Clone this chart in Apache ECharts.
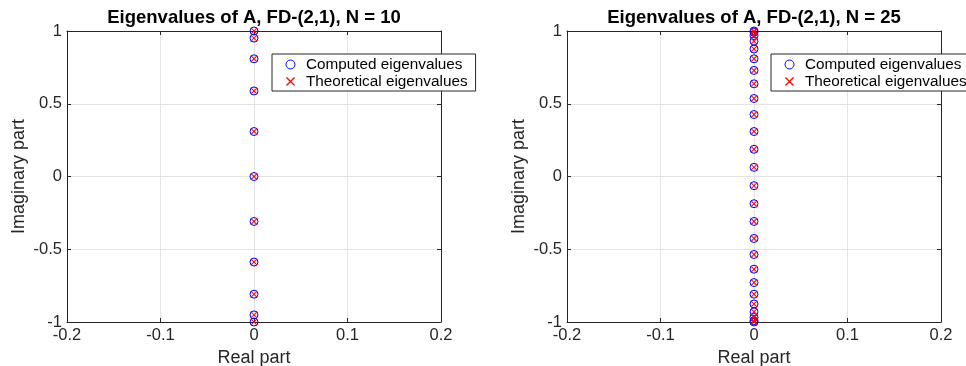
<!DOCTYPE html>
<html>
<head>
<meta charset="utf-8">
<script src="https://cdn.jsdelivr.net/npm/echarts@6/dist/echarts.min.js"></script>
<style>html,body{margin:0;padding:0;background:#fff}#c{width:966px;height:366px}</style>
</head>
<body>
<div id="c"></div>
<script>
// ---- data ----
var titles = ['Eigenvalues of A, FD-(2,1), N = 10', 'Eigenvalues of A, FD-(2,1), N = 25'];
var seriesNames = ['Computed eigenvalues', 'Theoretical eigenvalues'];
// N = 10 : (real, imag)
var real10 = [0, 0, 0, 0, 0, 0, 0, 0, 0, 0, 0];
var computedImag10 = [1, 0.951, 0.809, 0.588, 0.309, 0, -0.309, -0.588, -0.809, -0.951, -1];
var theoreticalImag10 = [1, 0.951, 0.809, 0.588, 0.309, 0, -0.309, -0.588, -0.809, -0.951, -1];
// N = 25
var real25 = [0, 0, 0, 0, 0, 0, 0, 0, 0, 0, 0, 0, 0, 0, 0, 0, 0, 0, 0, 0, 0, 0, 0, 0, 0, 0];
var computedImag25 = [1, 0.992, 0.969, 0.930, 0.876, 0.809, 0.729, 0.637, 0.536, 0.426, 0.309, 0.187, 0.063,
  -0.063, -0.187, -0.309, -0.426, -0.536, -0.637, -0.729, -0.809, -0.876, -0.930, -0.969, -0.992, -1];
var theoreticalImag25 = [1, 0.992, 0.969, 0.930, 0.876, 0.809, 0.729, 0.637, 0.536, 0.426, 0.309, 0.187, 0.063,
  -0.063, -0.187, -0.309, -0.426, -0.536, -0.637, -0.729, -0.809, -0.876, -0.930, -0.969, -0.992, -1];
var xTicks = [-0.2, -0.1, 0, 0.1, 0.2];
var yTicks = [-1, -0.5, 0, 0.5, 1];

function pairs(xs, ys) { return ys.map(function (y, i) { return [xs[i], y]; }); }

// ---- chart ----
var FONT = 'Liberation Sans, Arial, Helvetica, sans-serif';
var AX = '#262626';
var GRID = '#e3e3e3';
var BLUE = '#0000ff', RED = '#ff0000';
// filled "x" outline so the colour comes from fill only
var CROSS = 'path://M0 1L1 0L5 4L9 0L10 1L6 5L10 9L9 10L5 6L1 10L0 9L4 5Z';
var gridLefts = [67, 567];
var plotW = 374, plotTop = 31, plotH = 291;
var fmt = function (v) { return String(Number(v.toFixed(2))); };

var option = { animation: false, backgroundColor: '#fff', title: [], grid: [], xAxis: [], yAxis: [], series: [], legend: [] };

[0, 1].forEach(function (k) {
  var gl = gridLefts[k];
  var suffix = '#' + k;
  option.title.push({
    text: titles[k], left: gl + plotW / 2, top: 8, textAlign: 'center', padding: 0,
    textStyle: { fontFamily: FONT, fontSize: 18.5, fontWeight: 'bold', color: '#000' }
  });
  option.grid.push({ left: gl, top: plotTop, width: plotW, height: plotH, show: false, containLabel: false, outerBoundsMode: 'none' });
  var xBase = {
    gridIndex: k, type: 'value', min: xTicks[0], max: xTicks[xTicks.length - 1], interval: 0.1,
    axisLine: { show: true, onZero: false, lineStyle: { color: AX, width: 1 } },
    axisTick: { show: true, inside: true, length: 4, lineStyle: { color: AX } }
  };
  option.xAxis.push(Object.assign({}, xBase, {
    position: 'bottom', name: 'Real part', nameLocation: 'middle', nameGap: 24,
    nameTextStyle: { fontFamily: FONT, fontSize: 18, color: AX },
    axisLabel: { fontFamily: FONT, fontSize: 16.5, color: AX, margin: 5, formatter: fmt, showMinLabel: true, showMaxLabel: true },
    splitLine: { show: true, lineStyle: { color: GRID, width: 1 } }
  }));
  option.xAxis.push(Object.assign({}, xBase, {
    position: 'top', axisLabel: { show: false }, splitLine: { show: false }
  }));
  var yBase = {
    gridIndex: k, type: 'value', min: yTicks[0], max: yTicks[yTicks.length - 1], interval: 0.5,
    axisLine: { show: true, onZero: false, lineStyle: { color: AX, width: 1 } },
    axisTick: { show: true, inside: true, length: 4, lineStyle: { color: AX } }
  };
  option.yAxis.push(Object.assign({}, yBase, {
    position: 'left', name: 'Imaginary part', nameLocation: 'middle', nameGap: 39,
    nameTextStyle: { fontFamily: FONT, fontSize: 18, color: AX },
    axisLabel: { fontFamily: FONT, fontSize: 16.5, color: AX, margin: 5, formatter: fmt, showMinLabel: true, showMaxLabel: true },
    splitLine: { show: true, lineStyle: { color: GRID, width: 1 } }
  }));
  option.yAxis.push(Object.assign({}, yBase, {
    position: 'right', axisLabel: { show: false }, splitLine: { show: false }
  }));

  var re = k === 0 ? real10 : real25;
  var cImag = k === 0 ? computedImag10 : computedImag25;
  var tImag = k === 0 ? theoreticalImag10 : theoreticalImag25;
  option.series.push({
    name: seriesNames[0] + suffix, type: 'scatter', xAxisIndex: 2 * k, yAxisIndex: 2 * k,
    data: pairs(re, cImag), symbol: 'circle', symbolSize: 8,
    itemStyle: { color: 'rgba(255,255,255,0)', borderColor: BLUE, borderWidth: 1, opacity: 1 },
    emphasis: { disabled: true }, z: 2
  });
  option.series.push({
    name: seriesNames[1] + suffix, type: 'scatter', xAxisIndex: 2 * k, yAxisIndex: 2 * k,
    data: pairs(re, tImag), symbol: CROSS, symbolSize: 7,
    itemStyle: { color: RED, borderWidth: 0, opacity: 1 },
    emphasis: { disabled: true }, z: 3
  });

  option.legend.push({
    left: k === 0 ? 272 : 771, top: 54, orient: 'vertical',
    itemWidth: 9, itemHeight: 9, itemGap: 2,
    padding: [3, 8, 2, 13.5],
    backgroundColor: '#fff', borderColor: AX, borderWidth: 1, borderRadius: 0,
    selectedMode: false,
    formatter: function (n) { return n.split('#')[0]; },
    textStyle: { fontFamily: FONT, fontSize: 15.3, color: '#000', padding: [0, 0, 0, 6] },
    data: [
      { name: seriesNames[0] + suffix, icon: 'circle', itemStyle: { color: 'rgba(255,255,255,0)', borderColor: BLUE, borderWidth: 1 } },
      { name: seriesNames[1] + suffix, icon: CROSS, itemStyle: { color: RED, borderWidth: 0 } }
    ]
  });
});

var chart = echarts.init(document.getElementById('c'), null, { renderer: 'canvas' });
chart.setOption(option);
</script>
</body>
</html>
